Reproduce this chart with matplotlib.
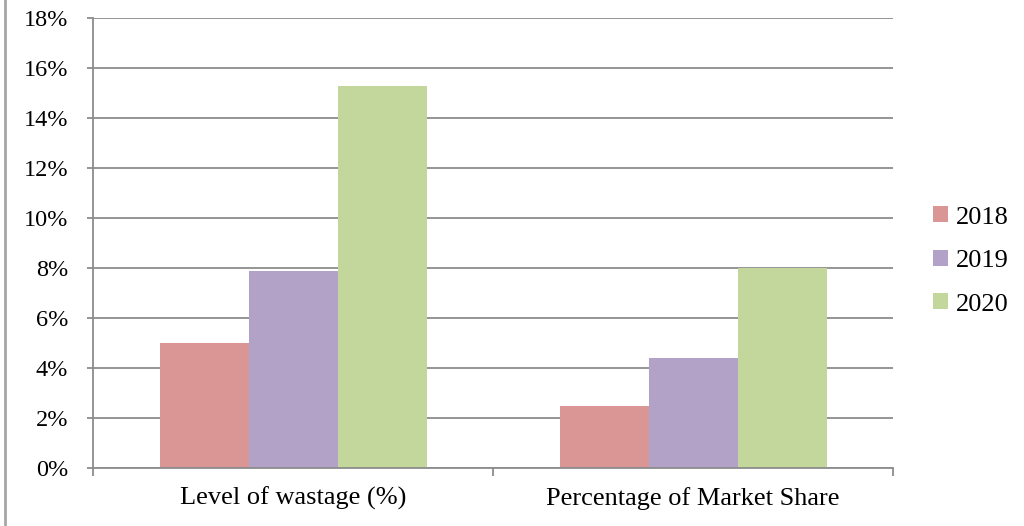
import matplotlib
matplotlib.use("Agg")
import matplotlib.pyplot as plt
from matplotlib.patches import Patch
from matplotlib.lines import Line2D
import numpy as np

categories = ["Level of wastage (%)", "Percentage of Market Share"]
years = ["2018", "2019", "2020"]
values_2018 = [5.0, 2.5]
values_2019 = [7.9, 4.4]
values_2020 = [15.3, 8.0]
colors = ["#D99694", "#B3A2C7", "#C3D69B"]

plt.rcParams["font.family"] = ["Liberation Serif", "DejaVu Serif"]

fig = plt.figure(figsize=(10.24, 5.26), dpi=100)
ax = fig.add_axes([93 / 1024, 1 - 468 / 526, 800 / 1024, 450 / 526])

x = np.arange(len(categories))
w = 0.2225
series = [values_2018, values_2019, values_2020]
for i, (vals, c) in enumerate(zip(series, colors)):
    ax.bar(x + (i - 1) * w, vals, width=w, color=c, zorder=3, linewidth=0)

ax.set_xlim(-0.5, 1.5)
ax.set_ylim(0, 18)
ax.set_yticks(np.arange(0, 19, 2))
ax.set_yticklabels([f"{v}%" for v in range(0, 19, 2)], fontsize=17.5)
ax.yaxis.grid(True, color="#8c8c8c", linewidth=1.3, zorder=0)

# category labels between the boundary ticks
ax.set_xticks([-0.5, 0.5, 1.5])
ax.set_xticklabels([])
ax.set_xticks(x, minor=True)
ax.set_xticklabels(categories, minor=True, fontsize=19)
ax.tick_params(axis="x", which="minor", length=0, pad=13.5)
ax.tick_params(axis="x", which="major", length=6, width=1.3, color="#8c8c8c")
ax.tick_params(axis="y", length=4.5, width=1.3, color="#8c8c8c", pad=13.5)

for s in ["top", "right"]:
    ax.spines[s].set_visible(False)
for s in ["left", "bottom"]:
    ax.spines[s].set_color("#8c8c8c")
    ax.spines[s].set_linewidth(1.3)
    ax.spines[s].set_zorder(4)

handles = [Patch(facecolor=c, edgecolor="none") for c in colors]
fig.legend(handles, years, loc="center left", bbox_to_anchor=(920 / 1024, 1 - 261 / 526),
           frameon=False, fontsize=19, handlelength=0.55, handleheight=0.55,
           handletextpad=0.3, labelspacing=0.8, borderpad=0)

# thin border line on the left edge of the picture
fig.add_artist(Line2D([5 / 1024, 5 / 1024], [0, 1], transform=fig.transFigure,
                      color="#a6a6a6", linewidth=2))

fig.savefig("out.png", dpi=100)
